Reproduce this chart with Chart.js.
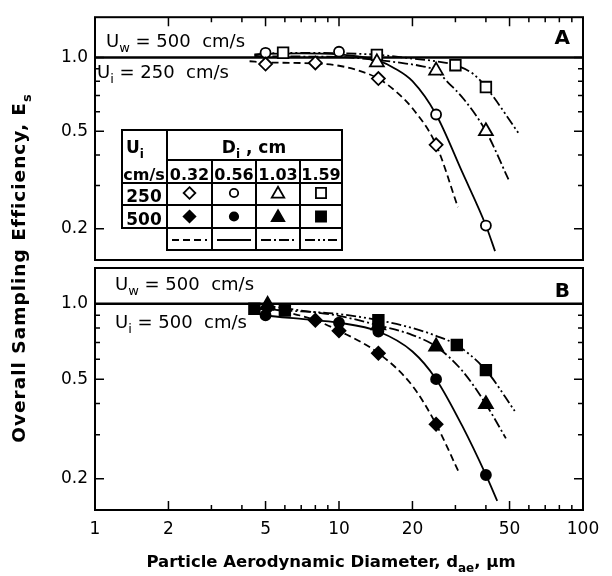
<!DOCTYPE html>
<html>
<head>
<meta charset="utf-8">
<script src="https://cdn.jsdelivr.net/npm/chart.js@4.4.0/dist/chart.umd.min.js"></script>
<style>
html, body { margin: 0; padding: 0; background: #fff; }
#wrap { position: relative; width: 612px; height: 576px; }
#wrap canvas { position: absolute; left: 0; top: 0; }
</style>
</head>
<body>
<div id="wrap">
  <canvas id="chartB" width="612" height="576"></canvas>
  <canvas id="chartA" width="612" height="576"></canvas>
</div>
<script>
// axes
const xTickVals = [1, 2, 3, 4, 5, 6, 7, 8, 9, 10, 20, 30, 40, 50, 60, 70, 80, 90, 100];
const xLabelVals = [1, 2, 5, 10, 20, 50, 100];
const yTickVals = [0.2, 0.3, 0.4, 0.5, 0.6, 0.7, 0.8, 0.9, 1.0];
const yLabelVals = [0.2, 0.5, 1.0];
const refX = [1, 100];
const refY = [1, 1];

// Panel A (Ui = 250 cm/s), open symbols
const aDiaX = [5, 8, 14.5, 25];
const aDiaY = [0.94, 0.95, 0.82, 0.44];
const aCirX = [5, 10, 25, 40];
const aCirY = [1.045, 1.055, 0.585, 0.206];
const aTriX = [14.3, 25, 40];
const aTriY = [0.955, 0.884, 0.50];
const aSqX = [5.9, 14.3, 30, 40];
const aSqY = [1.045, 1.025, 0.93, 0.757];

const aDashX = [4.3, 5, 8, 10, 12, 14.5, 17, 20, 25, 30.7];
const aDashY = [0.965, 0.955, 0.945, 0.925, 0.885, 0.82, 0.73, 0.62, 0.44, 0.245];
const aSolidX = [4.5, 5, 7, 10, 12, 14.5, 17, 20, 25, 32, 40, 43.6];
const aSolidY = [1.02, 1.035, 1.04, 1.03, 1.01, 0.97, 0.90, 0.80, 0.585, 0.34, 0.206, 0.162];
const aDashDotX = [4.5, 10, 14.5, 18, 22, 25, 28, 32.3, 40, 49.5];
const aDashDotY = [1.01, 1.005, 0.975, 0.95, 0.92, 0.884, 0.79, 0.68, 0.50, 0.318];
const aDash2DotX = [4.5, 6, 10, 14.5, 20, 25, 30, 35.5, 40, 54.5];
const aDash2DotY = [1.03, 1.045, 1.04, 1.025, 0.99, 0.965, 0.93, 0.856, 0.757, 0.49];

// Panel B (Ui = 500 cm/s), filled symbols
const bDiaX = [5.1, 8, 10, 14.5, 25];
const bDiaY = [0.965, 0.86, 0.78, 0.635, 0.33];
const bCirX = [5, 10, 14.5, 25, 40];
const bCirY = [0.90, 0.84, 0.775, 0.50, 0.207];
const bTriX = [5.1, 14.5, 25, 40];
const bTriY = [0.99, 0.82, 0.675, 0.397];
const bSqX = [4.5, 6, 14.5, 30.4, 40];
const bSqY = [0.955, 0.94, 0.86, 0.684, 0.543];

const bDashX = [4.8, 5, 6, 8, 10, 14.5, 20, 25, 30.8];
const bDashY = [0.975, 0.965, 0.93, 0.86, 0.78, 0.635, 0.47, 0.33, 0.215];
const bSolidX = [4.5, 5, 7, 10, 14.5, 20, 25, 32, 40, 44.5];
const bSolidY = [0.92, 0.90, 0.87, 0.84, 0.775, 0.645, 0.50, 0.325, 0.207, 0.163];
const bDashDotX = [5, 7, 10, 14.5, 20, 25, 32, 40, 48.3];
const bDashDotY = [0.985, 0.94, 0.895, 0.82, 0.75, 0.675, 0.54, 0.397, 0.29];
const bDash2DotX = [4.5, 6, 10, 14.5, 20, 25, 30.4, 40, 52.5];
const bDash2DotY = [0.955, 0.94, 0.91, 0.86, 0.80, 0.745, 0.684, 0.543, 0.373];

const diamLabels = ['0.32', '0.56', '1.03', '1.59'];
const dashes = [[7, 4], [], [10, 3, 2, 3], [10, 3, 2, 3, 2, 3]];
const FAM = '"DejaVu Sans", sans-serif';

function pts(xs, ys) {
    return xs.map((x, i) => ({ x: x, y: ys[i] }));
}

function curve(xs, ys, dash) {
    return {
        data: pts(xs, ys), showLine: true, borderColor: '#000', borderWidth: 1.8,
        borderDash: dash, pointRadius: 0, cubicInterpolationMode: 'monotone', order: 2
    };
}

function marks(xs, ys, style, r, fill) {
    return {
        data: pts(xs, ys), showLine: false, pointStyle: style, pointRadius: r,
        pointBackgroundColor: fill, pointBorderColor: '#000', pointBorderWidth: 1.8, order: 0
    };
}

function refLine() {
    return { data: pts(refX, refY), showLine: true, borderColor: '#000', borderWidth: 2.5, pointRadius: 0, order: 1 };
}

// texte avec indices
function richText(ctx, parts, x, y, size, weight, align, spacing) {
    const sub = Math.round(size * 0.72);
    ctx.letterSpacing = (spacing || 0) + 'px';
    let w = 0;
    parts.forEach(([t, isSub]) => {
        ctx.font = `${weight} ${isSub ? sub : size}px ${FAM}`;
        w += ctx.measureText(t).width;
    });
    let cx = align === 'center' ? x - w / 2 : (align === 'right' ? x - w : x);
    ctx.textAlign = 'left';
    ctx.textBaseline = 'alphabetic';
    ctx.fillStyle = '#000';
    parts.forEach(([t, isSub]) => {
        ctx.font = `${weight} ${isSub ? sub : size}px ${FAM}`;
        ctx.fillText(t, cx, isSub ? y + size * 0.3 : y);
        cx += ctx.measureText(t).width;
    });
    ctx.letterSpacing = '0px';
}

function marker(ctx, style, cx, cy, r, filled) {
    ctx.beginPath();
    if (style === 'rectRot') {
        ctx.moveTo(cx, cy - r); ctx.lineTo(cx + r, cy); ctx.lineTo(cx, cy + r); ctx.lineTo(cx - r, cy);
        ctx.closePath();
    } else if (style === 'circle') {
        ctx.arc(cx, cy, r * 0.85, 0, Math.PI * 2);
    } else if (style === 'triangle') {
        for (let k = 0; k < 3; k++) {
            const ang = -Math.PI / 2 + k * 2 * Math.PI / 3;
            const px = cx + r * Math.cos(ang), py = cy + r * Math.sin(ang) + 1;
            if (k === 0) ctx.moveTo(px, py); else ctx.lineTo(px, py);
        }
        ctx.closePath();
    } else {
        const s = r * 0.75;
        ctx.rect(cx - s, cy - s, 2 * s, 2 * s);
    }
    ctx.fillStyle = filled ? '#000' : '#fff';
    ctx.fill();
    ctx.lineWidth = 1.8;
    ctx.strokeStyle = '#000';
    ctx.stroke();
}

const framePlugin = {
    id: 'frame',
    afterDatasetsDraw(chart, args, opts) {
        const { ctx, chartArea: a, scales: { x, y } } = chart;
        ctx.save();
        ctx.strokeStyle = '#000';
        ctx.setLineDash([]);
        ctx.lineWidth = 2;
        ctx.strokeRect(a.left, a.top, a.right - a.left, a.bottom - a.top);
        ctx.lineWidth = 1.5;
        ctx.beginPath();
        xTickVals.forEach(v => {
            const px = x.getPixelForValue(v);
            const len = xLabelVals.includes(v) ? 9 : 5;
            if (opts.edge === 'top') { ctx.moveTo(px, a.top); ctx.lineTo(px, a.top + len); }
            else { ctx.moveTo(px, a.bottom); ctx.lineTo(px, a.bottom - len); }
        });
        yTickVals.forEach(v => {
            const py = y.getPixelForValue(v);
            const len = yLabelVals.includes(v) ? 9 : 5;
            ctx.moveTo(a.left, py); ctx.lineTo(a.left + len, py);
            ctx.moveTo(a.right, py); ctx.lineTo(a.right - len, py);
        });
        ctx.stroke();
        ctx.restore();
    }
};

// tableau de légende du panneau A
function drawTable(ctx) {
    const c = [122, 167, 212, 256, 300, 342];
    const r = [130, 160, 183, 205, 228, 250];
    const styles = ['rectRot', 'circle', 'triangle', 'rect'];
    const sizes = [6.5, 5.5, 8, 7.5];
    ctx.save();
    ctx.fillStyle = '#fff';
    ctx.fillRect(c[0], r[0], c[5] - c[0], r[4] - r[0]);
    ctx.fillRect(c[1], r[4], c[5] - c[1], r[5] - r[4]);
    ctx.strokeStyle = '#000';
    ctx.lineWidth = 2;
    ctx.setLineDash([]);
    ctx.strokeRect(c[0], r[0], c[5] - c[0], r[4] - r[0]);
    ctx.strokeRect(c[1], r[4], c[5] - c[1], r[5] - r[4]);
    ctx.beginPath();
    ctx.moveTo(c[1], r[1]); ctx.lineTo(c[5], r[1]);
    ctx.moveTo(c[0], r[2]); ctx.lineTo(c[5], r[2]);
    ctx.moveTo(c[0], r[3]); ctx.lineTo(c[5], r[3]);
    ctx.moveTo(c[1], r[0]); ctx.lineTo(c[1], r[5]);
    for (let k = 2; k <= 4; k++) { ctx.moveTo(c[k], r[1]); ctx.lineTo(c[k], r[5]); }
    ctx.stroke();

    richText(ctx, [['U', false], ['i', true]], 126, 153, 17, 'bold', 'left');
    richText(ctx, [['cm/s', false]], 144, 180, 16, 'bold', 'center');
    richText(ctx, [['D', false], ['i', true], [' , cm', false]], 254, 153, 17, 'bold', 'center');
    richText(ctx, [['250', false]], 144, 202, 17, 'bold', 'center');
    richText(ctx, [['500', false]], 144, 225, 17, 'bold', 'center');
    for (let k = 0; k < 4; k++) {
        const mid = (c[k + 1] + c[k + 2]) / 2;
        richText(ctx, [[diamLabels[k], false]], mid, 180, 16, 'bold', 'center');
        marker(ctx, styles[k], mid, 193, sizes[k] * 0.9, false);
        marker(ctx, styles[k], mid, 216.5, sizes[k] * 0.9, true);
        ctx.beginPath();
        ctx.setLineDash(dashes[k]);
        ctx.lineWidth = 2.2;
        ctx.moveTo(c[k + 1] + 5, 240); ctx.lineTo(c[k + 2] - 5, 240);
        ctx.stroke();
        ctx.setLineDash([]);
    }
    ctx.restore();
}

const notesA = {
    id: 'notesA',
    afterDraw(chart) {
        const ctx = chart.ctx;
        ctx.save();
        richText(ctx, [['U', false], ['w', true], [' = 500  cm/s', false]], 106, 47, 18, 'normal', 'left');
        richText(ctx, [['U', false], ['i', true], [' = 250  cm/s', false]], 97, 78, 18, 'normal', 'left');
        richText(ctx, [['A', false]], 570, 44, 20, 'bold', 'right');
        drawTable(ctx);
        ctx.restore();
    }
};

const notesB = {
    id: 'notesB',
    afterDraw(chart) {
        const ctx = chart.ctx;
        ctx.save();
        richText(ctx, [['U', false], ['w', true], [' = 500  cm/s', false]], 115, 290, 18, 'normal', 'left');
        richText(ctx, [['U', false], ['i', true], [' = 500  cm/s', false]], 115, 328, 18, 'normal', 'left');
        richText(ctx, [['B', false]], 570, 297, 20, 'bold', 'right');
        // titres des axes
        richText(ctx, [['Particle Aerodynamic Diameter, d', false], ['ae', true], [', \u00b5m', false]], 331, 567, 16.5, 'bold', 'center');
        ctx.translate(25, 268);
        ctx.rotate(-Math.PI / 2);
        richText(ctx, [['Overall Sampling Efficiency, E', false], ['s', true]], 0, 0, 18.5, 'bold', 'center', 1);
        ctx.restore();
    }
};

function panelScales(yMin, yMax, showX) {
    return {
        x: {
            type: 'logarithmic', min: 1, max: 100, position: 'bottom',
            afterBuildTicks: s => { s.ticks = xTickVals.map(v => ({ value: v })); },
            ticks: {
                display: showX, autoSkip: false, maxRotation: 0, padding: 9, color: '#000',
                font: { family: FAM, size: 17 },
                callback: v => xLabelVals.includes(v) ? String(v) : ''
            },
            grid: { display: false, drawTicks: false },
            border: { display: false },
            afterFit: s => { s.height = showX ? 66 : 0; }
        },
        y: {
            type: 'logarithmic', min: yMin, max: yMax,
            afterBuildTicks: s => { s.ticks = yTickVals.map(v => ({ value: v })); },
            ticks: {
                autoSkip: false, padding: 7, color: '#000',
                font: { family: FAM, size: 17 },
                callback: v => yLabelVals.includes(v) ? v.toFixed(1) : ''
            },
            grid: { display: false, drawTicks: false },
            border: { display: false },
            afterFit: s => { s.width = 95; }
        }
    };
}

const baseOpts = {
    responsive: false,
    animation: false,
    events: []
};

new Chart(document.getElementById('chartA'), {
    type: 'scatter',
    data: {
        datasets: [
            refLine(),
            curve(aDashX, aDashY, dashes[0]),
            curve(aSolidX, aSolidY, dashes[1]),
            curve(aDashDotX, aDashDotY, dashes[2]),
            curve(aDash2DotX, aDash2DotY, dashes[3]),
            marks(aDiaX, aDiaY, 'rectRot', 6.5, '#fff'),
            marks(aCirX, aCirY, 'circle', 5, '#fff'),
            marks(aTriX, aTriY, 'triangle', 8, '#fff'),
            marks(aSqX, aSqY, 'rect', 7.5, '#fff')
        ]
    },
    options: Object.assign({}, baseOpts, {
        layout: { padding: { left: 0, top: 14, right: 29, bottom: 316 } },
        scales: panelScales(0.149, 1.46, false),
        plugins: { legend: { display: false }, tooltip: { enabled: false }, frame: { edge: 'top' } }
    }),
    plugins: [framePlugin, notesA]
});

new Chart(document.getElementById('chartB'), {
    type: 'scatter',
    data: {
        datasets: [
            refLine(),
            curve(bDashX, bDashY, dashes[0]),
            curve(bSolidX, bSolidY, dashes[1]),
            curve(bDashDotX, bDashDotY, dashes[2]),
            curve(bDash2DotX, bDash2DotY, dashes[3]),
            marks(bDiaX, bDiaY, 'rectRot', 6.5, '#000'),
            marks(bCirX, bCirY, 'circle', 5, '#000'),
            marks(bTriX, bTriY, 'triangle', 8, '#000'),
            marks(bSqX, bSqY, 'rect', 7.5, '#000')
        ]
    },
    options: Object.assign({}, baseOpts, {
        layout: { padding: { left: 0, top: 268, right: 29, bottom: 0 } },
        scales: panelScales(0.15, 1.39, true),
        plugins: { legend: { display: false }, tooltip: { enabled: false }, frame: { edge: 'bottom' } }
    }),
    plugins: [framePlugin, notesB]
});
</script>
</body>
</html>
